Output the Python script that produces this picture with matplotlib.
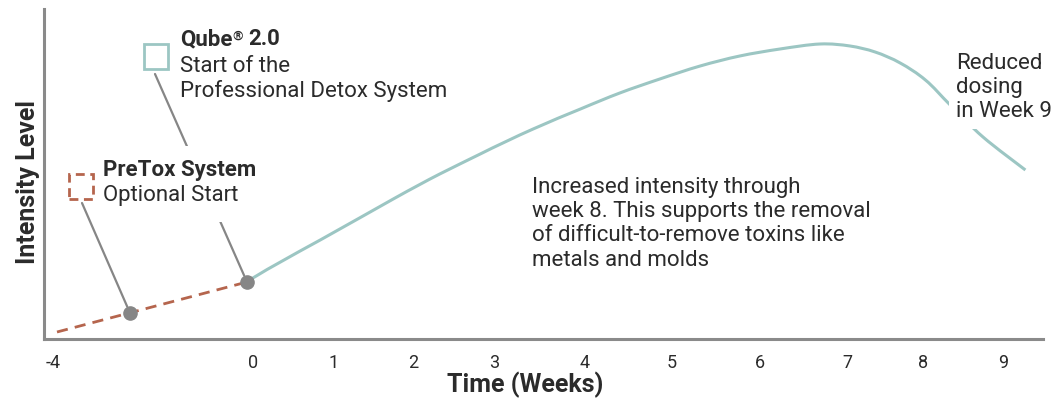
import numpy as np
import matplotlib.pyplot as plt
from matplotlib.patches import Rectangle, PathPatch
from matplotlib.path import Path

# ---- data ------------------------------------------------------------
tick_weeks = [-4, 0, 1, 2, 3, 4, 5, 6, 7, 8, 9]
tick_labels = ['-4', '0', '1', '2', '3', '4', '5', '6', '7', '8', '9']

# PreTox (optional start) phase
pretox_weeks = [-3.92, -0.12]
pretox_level = [7, 57]

# Qube 2.0 phase
qube_weeks = [-0.12, 0.83, 1.75, 2.33, 2.83, 3.43, 3.95, 4.40, 4.86, 5.32,
              5.77, 6.23, 6.69, 7.04, 7.37, 7.70, 8.03, 8.34, 8.75, 9.28]
qube_level = [57, 99, 140, 165, 185, 210, 230, 246, 260, 273,
              283, 290, 295, 293, 287, 276, 259, 234, 202, 169]

# start markers
start_weeks = [-2.46, -0.12]
start_level = [26, 57]

# ---- style -----------------------------------------------------------
TEAL = '#9cc6c3'
RUST = '#b5654d'
GREY = '#868686'
TXT = '#2b2b2b'
plt.rcParams['font.family'] = ['Roboto', 'DejaVu Sans']

W, H = 1055, 400
FS = 16

# the week axis of the original is drawn with uneven spacing
knot_weeks = [-6, -4, 0, 1, 2, 3, 4, 5, 6, 7, 8, 9, 11]
knot_px = [-47, 53, 253, 334, 413, 494, 585, 672, 760, 847, 923, 1003, 1163]


def fwd(w):
    return np.interp(w, knot_weeks, knot_px)


def inv(p):
    return np.interp(p, knot_px, knot_weeks)


def fig_xy(x, y):
    # pixel position (from top-left) -> figure fraction
    return x / W, 1 - y / H


def smooth_path(xs, ys):
    # Catmull-Rom through the points, written as cubic bezier segments
    p = np.column_stack([xs, ys]).astype(float)
    verts = [p[0]]
    codes = [Path.MOVETO]
    for i in range(len(p) - 1):
        p0 = p[i - 1] if i > 0 else p[i]
        p3 = p[i + 2] if i + 2 < len(p) else p[i + 1]
        c1 = p[i] + (p[i + 1] - p0) / 6
        c2 = p[i + 1] - (p3 - p[i]) / 6
        verts += [c1, c2, p[i + 1]]
        codes += [Path.CURVE4] * 3
    return Path(verts, codes)


fig = plt.figure(figsize=(W / 100, H / 100), dpi=100)
ax = fig.add_axes([44 / W, 61 / H, (1043 - 44) / W, 330 / H])
ax.set_xscale('function', functions=(fwd, inv))
ax.set_xlim(-4.18, 9.5)
ax.set_ylim(0, 330)

ax.plot(pretox_weeks, pretox_level, color=RUST, lw=2.0, ls=(0, (4, 2.6)),
        solid_capstyle='butt', zorder=3)
ax.add_patch(PathPatch(smooth_path(qube_weeks, qube_level), fill=False,
                       edgecolor=TEAL, lw=2.2, zorder=2))
ax.plot(start_weeks, start_level, 'o', color=GREY, ms=9.5, zorder=6)

# leader lines from the legend squares to the start dots
ax.annotate('', xy=(start_weeks[1], start_level[1]), xytext=(155, H - 74),
            textcoords='figure pixels',
            arrowprops=dict(arrowstyle='-', color=GREY, lw=1.6,
                            shrinkA=0, shrinkB=5), zorder=1)
ax.annotate('', xy=(start_weeks[0], start_level[0]), xytext=(82, H - 203),
            textcoords='figure pixels',
            arrowprops=dict(arrowstyle='-', color=GREY, lw=1.6,
                            shrinkA=0, shrinkB=5), zorder=1)

# legend squares
fig.add_artist(Rectangle(fig_xy(144, 69), 24 / W, 25 / H, transform=fig.transFigure,
                         fill=False, edgecolor=TEAL, lw=2.0, zorder=10))
fig.add_artist(Rectangle(fig_xy(69, 199), 24 / W, 25 / H, transform=fig.transFigure,
                         fill=False, edgecolor=RUST, lw=2.0, ls=(0, (3.2, 2)), zorder=10))

# white knock-out behind the PreTox label (interrupts the Qube leader)
fig.add_artist(Rectangle(fig_xy(96, 222), 170 / W, 76 / H, transform=fig.transFigure,
                         facecolor='white', edgecolor='none', zorder=4))

# annotation texts
fig.canvas.draw()
rend = fig.canvas.get_renderer()
t_q = fig.text(*fig_xy(180, 28), 'Qube', fontsize=FS, fontweight='bold', color=TXT,
               va='top', zorder=6)
bb = t_q.get_window_extent(rend)
t_r = fig.text(bb.x1 / W, (bb.y1 - 2) / H, '®', fontsize=FS * 0.6, fontweight='bold',
               color=TXT, va='top', zorder=6)
bb2 = t_r.get_window_extent(rend)
fig.text((bb2.x1 + 5) / W, 1 - 28 / H, '2.0', fontsize=FS, fontweight='bold',
         color=TXT, va='top', zorder=6)
fig.text(*fig_xy(180, 56), 'Start of the\nProfessional Detox System', fontsize=FS,
         color=TXT, va='top', linespacing=1.2, zorder=6)

fig.text(*fig_xy(103, 159), 'PreTox System', fontsize=FS, fontweight='bold',
         color=TXT, va='top', zorder=6)
fig.text(*fig_xy(103, 185), 'Optional Start', fontsize=FS, color=TXT, va='top', zorder=6)

fig.text(*fig_xy(532, 177),
         'Increased intensity through\nweek 8. This supports the removal\n'
         'of difficult-to-remove toxins like\nmetals and molds',
         fontsize=FS, color=TXT, va='top', linespacing=1.2)

fig.text(*fig_xy(956, 53), 'Reduced\ndosing\nin Week 9', fontsize=FS, color=TXT,
         va='top', linespacing=1.2,
         bbox=dict(facecolor='white', edgecolor='none', pad=5), zorder=5)

# axes cosmetics
for s in ['top', 'right']:
    ax.spines[s].set_visible(False)
for s in ['left', 'bottom']:
    ax.spines[s].set_color('#8a8a8a')
    ax.spines[s].set_linewidth(2.2)
ax.set_xticks(tick_weeks)
ax.set_xticklabels(tick_labels)
ax.set_yticks([])
ax.minorticks_off()
ax.tick_params(axis='x', length=0, pad=11, labelsize=13, labelcolor=TXT)

ax.set_xlabel('Time (Weeks)', fontsize=18, fontweight='bold', color=TXT)
ax.xaxis.set_label_coords(0.4815, -0.1)
ax.set_ylabel('Intensity Level', fontsize=18, fontweight='bold', color=TXT)
ax.yaxis.set_label_coords(-0.004, 0.476)

fig.savefig('out.png', dpi=100)
